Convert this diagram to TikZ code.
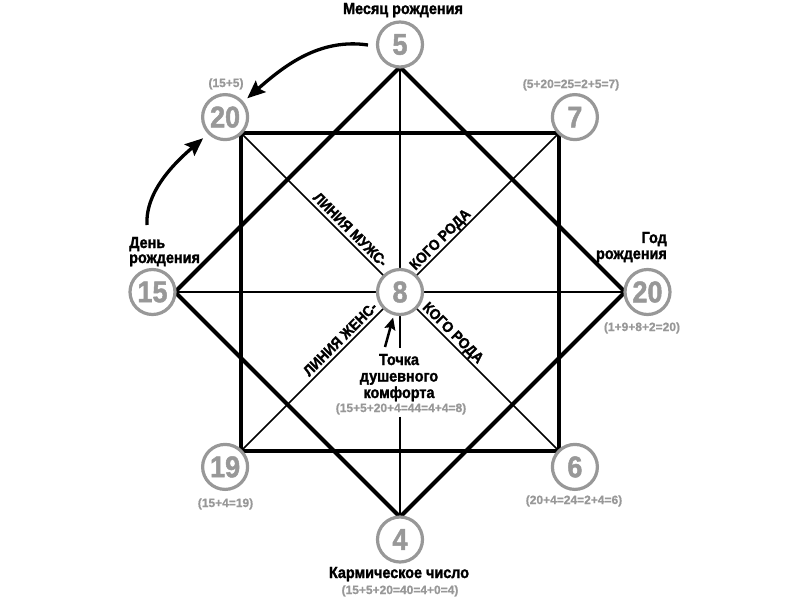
\documentclass[tikz,border=0pt]{standalone}
\usepackage{fontspec}
\setmainfont{Liberation Sans}
\newfontfamily\cond{Liberation Sans}[UprightFont={* Bold}, FakeStretch=0.9, FakeBold=1.5]
\newfontfamily\numf{Liberation Sans}[UprightFont={* Bold}, FakeStretch=0.9, FakeBold=1.5]
\newfontfamily\frmf{Liberation Sans}[UprightFont={* Bold}, FakeBold=0.8]
\usetikzlibrary{arrows.meta,backgrounds}
\definecolor{cgray}{RGB}{152,152,152}
\tikzset{
 num/.style={circle, draw=cgray, line width=3.2pt, fill=white, minimum size=45pt, inner sep=0pt, outer sep=0pt, text=cgray, font=\numf\fontsize{30}{30}\selectfont},
 lbl/.style={inner sep=0pt, font=\cond\fontsize{16}{16}\selectfont},
 diag/.style={inner sep=0pt, font=\cond\fontsize{15}{15}\selectfont},
 frm/.style={inner sep=0pt, text=cgray, font=\frmf\fontsize{12}{12}\selectfont},
 thinline/.style={line width=1.7pt},
 thickline/.style={line width=4.2pt, line join=miter},
 bigarrow/.style={line width=3.3pt, -{Stealth[length=18pt,width=15pt,inset=3pt]}},
 smallarrow/.style={line width=2.5pt, -{Stealth[length=12pt,width=11pt,inset=2pt]}},
}
\begin{document}
\begin{tikzpicture}[x=1pt,y=1pt]
\useasboundingbox (0,0) rectangle (800,-600);
% circles
\node[num] (c5) at (400,-44.5) {5};
\node[num] (c20l) at (225.1,-117.1) {20};
\node[num] (c7) at (574.9,-117.1) {7};
\node[num] (c15) at (152.5,-292) {15};
\node[num] (c8) at (400,-292) {8};
\node[num] (c20r) at (647.5,-292) {20};
\node[num] (c19) at (225.1,-466.9) {19};
\node[num] (c6) at (574.9,-466.9) {6};
\node[num] (c4) at (400,-539.5) {4};
% labels
\node[lbl, anchor=base] (mes) at (403,-14) {Месяц рождения};
\node[lbl, anchor=base west] (dr1) at (129,-248) {День};
\node[lbl, anchor=base west] (dr2) at (129,-263) {рождения};
\node[lbl, anchor=base east] (gr1) at (667,-243) {Год};
\node[lbl, anchor=base east] (gr2) at (667,-259) {рождения};
\node[lbl, anchor=base] (t1) at (399,-365) {Точка};
\node[lbl, anchor=base] (t2) at (399,-381.5) {душевного};
\node[lbl, anchor=base] (t3) at (399,-398) {комфорта};
\node[lbl, anchor=base] (karm) at (399,-578) {Кармическое число};
% formulas
\node[frm, anchor=base] (f8) at (401,-412) {(15+5+20+4=44=4+4=8)};
\node[frm, anchor=base] (f4) at (400,-594) {(15+5+20=40=4+0=4)};
\node[frm, anchor=base] (f20l) at (226,-87) {(15+5)};
\node[frm, anchor=base] (f7) at (571,-88) {(5+20=25=2+5=7)};
\node[frm, anchor=base] (f20r) at (642,-331) {(1+9+8+2=20)};
\node[frm, anchor=base] (f19) at (225.5,-507) {(15+4=19)};
\node[frm, anchor=base] (f6) at (574,-504) {(20+4=24=2+4=6)};
% diagonal labels
\node[diag, anchor=base, rotate=-45] (lm) at (346.8,-233.2) {ЛИНИЯ МУЖС-};
\node[diag, anchor=base, rotate=45] (kr1) at (443.5,-242.9) {КОГО РОДА};
\node[diag, anchor=base, rotate=45] (lz) at (343.8,-342.6) {ЛИНИЯ ЖЕНС-};
\node[diag, anchor=base, rotate=-45] (kr2) at (449.8,-336.2) {КОГО РОДА};
% lines
\begin{scope}[on background layer]
 \fill[white] (0,0) rectangle (800,-600);
 \draw[thinline] (c5) -- (c8);
 \draw[thinline] (c8) -- ([yshift=5.5pt]c8 |- t1.north);
 \draw[thinline] ([yshift=-2pt]c8 |- f8.south) -- (c4);
 \draw[thinline] (c15) -- (c20r);
 \draw[thinline] (c20l) -- (c6);
 \draw[thinline] (c7) -- (c19);
 \draw[thickline] (c20l.south east) -- (c7.south west) -- (c6.north west) -- (c19.north east) -- cycle;
 \draw[thickline] (c5.south) -- (c20r.west) -- (c4.north) -- (c15.east) -- cycle;
\end{scope}
% arrows
\coordinate (a1s) at (368,-45);
\coordinate (a2s) at (147,-225);
\coordinate (a3s) at (385,-347);
\draw[bigarrow, shorten >=6.5pt] (a1s) .. controls (320,-38) and (285,-65) .. (c20l.40);
\draw[bigarrow, shorten >=8pt] (a2s) .. controls (145,-190) and (178,-160) .. (c20l.225);
\draw[smallarrow, shorten >=4pt] (a3s) -- (c8.255);
\end{tikzpicture}
\end{document}
